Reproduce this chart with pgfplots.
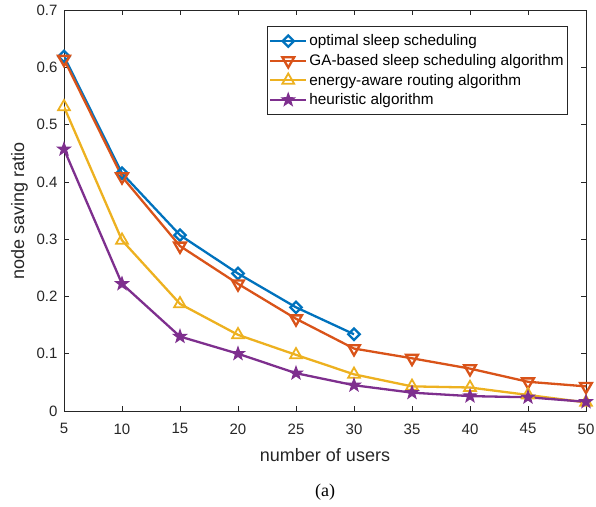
\documentclass[border=0pt]{standalone}
\usepackage{pgfplots}
\pgfplotsset{compat=1.18}
\usepackage{fontspec}
\setmainfont{Liberation Sans}
\newfontfamily\captionfont{Liberation Serif}

\definecolor{mblue}{rgb}{0,0.447,0.741}
\definecolor{morange}{rgb}{0.850,0.325,0.098}
\definecolor{myellow}{rgb}{0.929,0.694,0.125}
\definecolor{mpurple}{rgb}{0.494,0.184,0.556}
\definecolor{axgray}{rgb}{0.15,0.15,0.15}

% five-pointed star marker
\pgfdeclareplotmark{pentagram}{%
  \pgfpathmoveto{\pgfpointpolar{90}{\pgfplotmarksize}}%
  \pgfpathlineto{\pgfpointpolar{126}{0.4\pgfplotmarksize}}%
  \pgfpathlineto{\pgfpointpolar{162}{\pgfplotmarksize}}%
  \pgfpathlineto{\pgfpointpolar{198}{0.4\pgfplotmarksize}}%
  \pgfpathlineto{\pgfpointpolar{234}{\pgfplotmarksize}}%
  \pgfpathlineto{\pgfpointpolar{270}{0.4\pgfplotmarksize}}%
  \pgfpathlineto{\pgfpointpolar{306}{\pgfplotmarksize}}%
  \pgfpathlineto{\pgfpointpolar{342}{0.4\pgfplotmarksize}}%
  \pgfpathlineto{\pgfpointpolar{18}{\pgfplotmarksize}}%
  \pgfpathlineto{\pgfpointpolar{54}{0.4\pgfplotmarksize}}%
  \pgfpathclose
  \pgfusepathqfillstroke
}

\begin{document}
\begin{tikzpicture}
\begin{axis}[
  scale only axis,
  width=522pt, height=401pt,
  xmin=5, xmax=50, ymin=0, ymax=0.7,
  xtick={5,10,...,50},
  ytick={0,0.1,...,0.7},
  yticklabels={0,0.1,0.2,0.3,0.4,0.5,0.6,0.7},
  tick align=inside,
  tick pos=both,
  major tick length=5pt,
  axis line style={axgray, line width=0.6pt},
  every tick/.style={axgray, line width=0.6pt},
  /pgf/number format/assume math mode=true,
  ticklabel style={font=\fontsize{15}{18}\selectfont, text=axgray},
  xticklabel style={yshift=-9pt},
  yticklabel style={xshift=-3pt},
  xlabel={number of users},
  ylabel={node saving ratio},
  label style={font=\fontsize{18}{21}\selectfont, text=axgray},
  xlabel style={yshift=-7pt},
  ylabel style={yshift=2pt},
  legend style={
    at={(rel axis cs:0.9655,0.960)}, anchor=north east,
    font=\fontsize{15.3}{18}\selectfont,
    draw=axgray, line width=0.6pt,
    row sep=3pt, inner xsep=2pt, inner ysep=6.5pt,
    cells={anchor=west},
  },
  legend image code/.code={
    \draw[mark repeat=2, mark phase=2]
      plot coordinates {(0pt,0pt) (18pt,0pt) (36pt,0pt)};
  },
  every axis plot/.append style={line width=2.3pt, mark options={solid, line width=1.8pt}},
]
% optimal sleep scheduling
\addplot[mblue, mark=square, mark size=4pt, mark options={rotate=45}] coordinates {
  (5,0.619) (10,0.415) (15,0.307) (20,0.240) (25,0.181) (30,0.134)
};
\addlegendentry{optimal sleep scheduling}
% GA-based sleep scheduling algorithm
\addplot[morange, mark=triangle, mark size=6.8pt, mark options={rotate=180}] coordinates {
  (5,0.614) (10,0.409) (15,0.288) (20,0.222) (25,0.161) (30,0.109)
  (35,0.092) (40,0.074) (45,0.051) (50,0.043)
};
\addlegendentry{GA-based sleep scheduling algorithm}
% energy-aware routing algorithm
\addplot[myellow, mark=triangle, mark size=6.8pt] coordinates {
  (5,0.531) (10,0.298) (15,0.187) (20,0.133) (25,0.098) (30,0.064)
  (35,0.043) (40,0.041) (45,0.028) (50,0.015)
};
\addlegendentry{energy-aware routing algorithm}
% heuristic algorithm
\addplot[mpurple, mark=pentagram, mark size=6.8pt, mark options={fill=mpurple, line width=1pt}] coordinates {
  (5,0.457) (10,0.222) (15,0.130) (20,0.100) (25,0.066) (30,0.045)
  (35,0.032) (40,0.026) (45,0.024) (50,0.016)
};
\addlegendentry{heuristic algorithm}
\end{axis}
\node[font=\captionfont\fontsize{18}{21}\selectfont] at (261pt,-81pt) {(a)};
\pgfresetboundingbox
\path[use as bounding box] (-64pt,-95pt) rectangle (532pt,411pt);
\end{tikzpicture}
\end{document}
